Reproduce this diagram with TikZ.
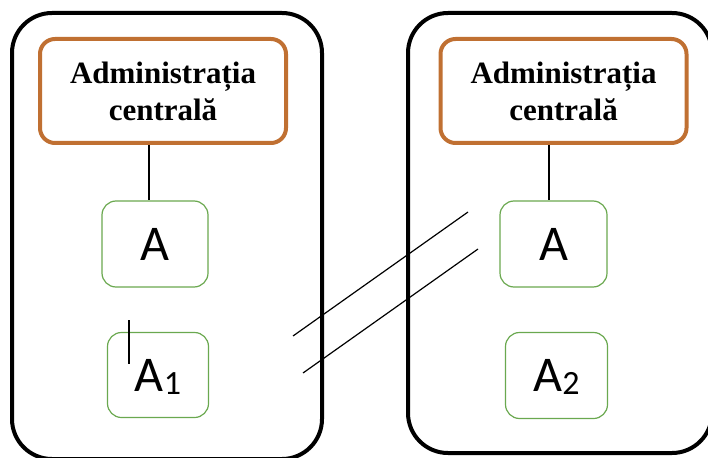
\documentclass[tikz,border=0pt]{standalone}
\usepackage{fontspec}
\setmainfont{Liberation Serif}
\newfontfamily\calib{Carlito}
\usepackage{tikz}
\definecolor{admorange}{RGB}{192,112,50}
\definecolor{unitgreen}{RGB}{106,168,79}
\tikzset{
    frame/.style={line width=4pt, rounded corners=40pt},
    admin/.style={draw=admorange, line width=4pt, rounded corners=15pt, minimum width=246pt, minimum height=104pt, align=center, font=\bfseries\fontsize{31}{37}\selectfont},
    unit/.style={draw=unitgreen, line width=1.2pt, rounded corners=14pt, text depth=0pt, font=\calib\fontsize{50}{50}\selectfont},
    link/.style={line width=1.2pt},
}
\begin{document}
\begin{tikzpicture}[x=1pt, y=-1pt]
    \useasboundingbox(0, 0) rectangle (708, 457);
    \clip(0, 0) rectangle (708, 457);
    % outer frames
    \draw[frame](12, 13) rectangle (322, 459);
    \draw[frame](408, 13) rectangle (712, 453);
    \node[admin](admL)at(163, 91){Administrația\\centrală};
    \node[admin](admR)at(563.5, 91){Administrația\\centrală};
    \node[unit, minimum width=106pt, minimum height=86pt](AL)at(155, 244){A};
    \node[unit, minimum width=101pt, minimum height=85pt](A1)at(158, 375){A\raisebox{-3pt}{\fontsize{34}{34}\selectfont 1}};
    \node[unit, minimum width=107pt, minimum height=86pt](AR)at(553.5, 244){A};
    \node[unit, minimum width=102pt, minimum height=86pt](A2)at(556.5, 375.5){A\raisebox{-3pt}{\fontsize{34}{34}\selectfont 2}};
    \coordinate(tL)at(149, 0);
    \coordinate(tR)at(549, 0);
    \draw[link](admL.south -| tL)--(AL.north -| tL);
    \draw[link](admR.south -| tR)--(AR.north -| tR);
    % cursor mark
    \coordinate(c1)at(129, 320);
    \coordinate(c2)at(129, 364);
    \draw[link](c1)--(c2);
    % crossing lines
    \coordinate(p1)at(293, 336);
    \coordinate(q1)at(468, 212);
    \coordinate(p2)at(303, 373);
    \coordinate(q2)at(478, 249);
    \draw[link](p1)--(q1);
    \draw[link](p2)--(q2);
\end{tikzpicture}
\end{document}
